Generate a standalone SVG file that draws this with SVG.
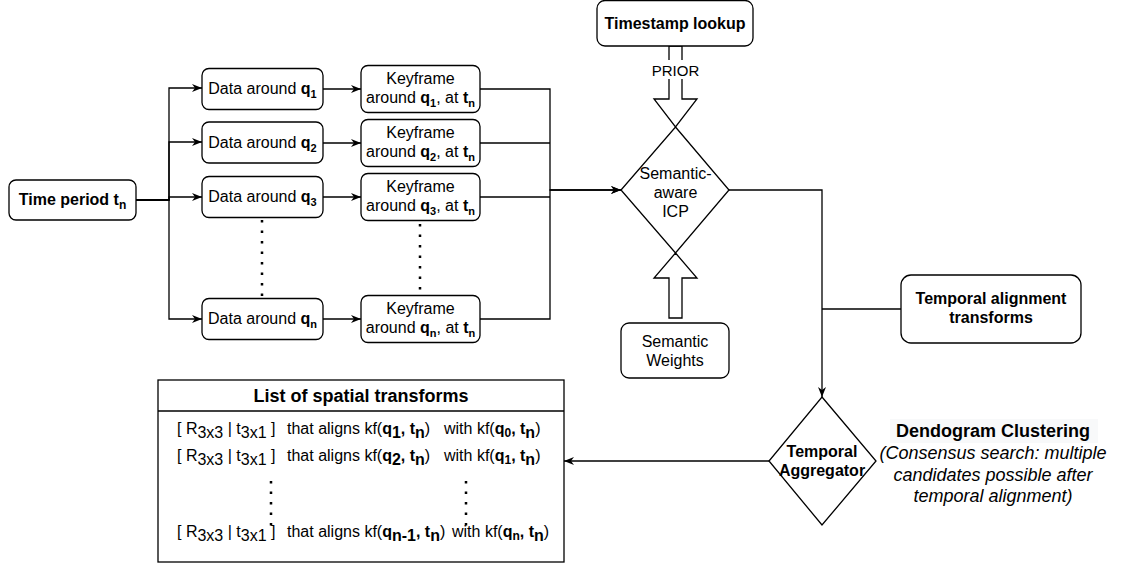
<svg xmlns="http://www.w3.org/2000/svg" width="1122" height="565" viewBox="0 0 1122 565">
<defs>
<marker id="arr" viewBox="0 0 10 8" refX="10" refY="4" markerWidth="10" markerHeight="8" markerUnits="userSpaceOnUse" orient="auto">
<path d="M0,0 L10,4 L0,8 L3,4 Z" fill="#000"/>
</marker>
<style>
.box{fill:#fff;stroke:#000;stroke-width:1.3}
.t{font-family:"Liberation Sans",Arial,sans-serif;font-size:16px;fill:#000}
.b{font-weight:bold}
.s{font-size:11px}
.s12{font-size:12px}
.f15{font-size:15px}
.f18{font-size:18px}
.it{font-style:italic}
.e{fill:none;stroke:#000;stroke-width:1.3}
.ea{fill:none;stroke:#000;stroke-width:1.3;marker-end:url(#arr)}
.dot{fill:none;stroke:#000;stroke-width:2.5;stroke-dasharray:2.5 8}
</style>
</defs>
<rect width="1122" height="565" fill="#fff"/>

<g id="connectors">
<path class="ea" d="M136,200 H169 V88 H202"/>
<path class="ea" d="M136,200 H169 V142 H202"/>
<path class="ea" d="M136,200 H169 V197 H202"/>
<path class="ea" d="M136,200 H169 V319 H202"/>
<path class="ea" d="M323,89 H361"/>
<path class="ea" d="M323,143 H361"/>
<path class="ea" d="M323,197 H361"/>
<path class="ea" d="M323,319 H361"/>
<path class="ea" d="M480,89 H550 V190 H621"/>
<path class="e" d="M480,143 H550"/>
<path class="e" d="M480,197 H550"/>
<path class="ea" d="M480,319 H550 V190 H621"/>
<path class="ea" d="M729,190 H822 V397"/>
<path class="e" d="M901,309 H822"/>
<path class="ea" d="M769,461 H564"/>
<path class="dot" d="M262,220 V298"/>
<path class="dot" d="M420,224 V295"/>
<polygon points="669,46 682,46 682,99 697,99 675.5,127 654,99 669,99" fill="#fff" stroke="#000" stroke-width="1.3"/>
<rect x="649" y="60" width="53" height="19" fill="#fff"/>
<text class="t f15" x="675.5" y="75.5" text-anchor="middle">PRIOR</text>
<polygon points="675.5,253 697,278 682,278 682,318 669,318 669,278 654,278" fill="#fff" stroke="#000" stroke-width="1.3"/>
</g>

<g id="time-period">
<rect class="box" x="9" y="180" width="127" height="40" rx="7"/>
<text class="t b" x="72.5" y="205" text-anchor="middle">Time period t<tspan class="s12" dy="4">n</tspan></text>
</g>

<g id="data-q1">
<rect class="box" x="202" y="68.5" width="121" height="41" rx="7"/>
<text class="t" x="262.5" y="94" text-anchor="middle">Data around <tspan class="b">q</tspan><tspan class="b s" dy="4">1</tspan></text>
</g>
<g id="data-q2">
<rect class="box" x="202" y="122" width="121" height="41" rx="7"/>
<text class="t" x="262.5" y="148" text-anchor="middle">Data around <tspan class="b">q</tspan><tspan class="b s" dy="4">2</tspan></text>
</g>
<g id="data-q3">
<rect class="box" x="202" y="176.5" width="121" height="41" rx="7"/>
<text class="t" x="262.5" y="202" text-anchor="middle">Data around <tspan class="b">q</tspan><tspan class="b s" dy="4">3</tspan></text>
</g>
<g id="data-qn">
<rect class="box" x="202" y="298.5" width="121" height="41" rx="7"/>
<text class="t" x="262.5" y="324" text-anchor="middle">Data around <tspan class="b">q</tspan><tspan class="b s" dy="4">n</tspan></text>
</g>

<g id="kf-q1">
<rect class="box" x="361" y="65.5" width="119" height="47" rx="7"/>
<text class="t" x="420.5" y="83.5" text-anchor="middle">Keyframe</text>
<text class="t" x="420.5" y="102.5" text-anchor="middle">around <tspan class="b">q</tspan><tspan class="b s" dy="4">1</tspan><tspan dy="-4">, at </tspan><tspan class="b">t</tspan><tspan class="b s" dy="4">n</tspan></text>
</g>
<g id="kf-q2">
<rect class="box" x="361" y="119.5" width="119" height="47" rx="7"/>
<text class="t" x="420.5" y="137.5" text-anchor="middle">Keyframe</text>
<text class="t" x="420.5" y="156.5" text-anchor="middle">around <tspan class="b">q</tspan><tspan class="b s" dy="4">2</tspan><tspan dy="-4">, at </tspan><tspan class="b">t</tspan><tspan class="b s" dy="4">n</tspan></text>
</g>
<g id="kf-q3">
<rect class="box" x="361" y="173.5" width="119" height="47" rx="7"/>
<text class="t" x="420.5" y="191.5" text-anchor="middle">Keyframe</text>
<text class="t" x="420.5" y="210.5" text-anchor="middle">around <tspan class="b">q</tspan><tspan class="b s" dy="4">3</tspan><tspan dy="-4">, at </tspan><tspan class="b">t</tspan><tspan class="b s" dy="4">n</tspan></text>
</g>
<g id="kf-qn">
<rect class="box" x="361" y="295.5" width="119" height="47" rx="7"/>
<text class="t" x="420.5" y="313.5" text-anchor="middle">Keyframe</text>
<text class="t" x="420.5" y="332.5" text-anchor="middle">around <tspan class="b">q</tspan><tspan class="b s" dy="4">n</tspan><tspan dy="-4">, at </tspan><tspan class="b">t</tspan><tspan class="b s" dy="4">n</tspan></text>
</g>

<g id="timestamp-lookup">
<rect class="box" x="597" y="0.5" width="156" height="45.5" rx="8"/>
<text class="t b" x="675" y="29" text-anchor="middle">Timestamp lookup</text>
</g>

<g id="icp">
<polygon class="box" points="675.5,127 729,190 675.5,253 621,190"/>
<text class="t" x="675.5" y="179" text-anchor="middle">Semantic-</text>
<text class="t" x="675.5" y="198" text-anchor="middle">aware</text>
<text class="t" x="675.5" y="217" text-anchor="middle">ICP</text>
</g>

<g id="semantic-weights">
<rect class="box" x="621" y="323" width="108" height="55" rx="8"/>
<text class="t" x="675" y="347" text-anchor="middle">Semantic</text>
<text class="t" x="675" y="366" text-anchor="middle">Weights</text>
</g>

<g id="temporal-alignment">
<rect class="box" x="901" y="275" width="180" height="68" rx="10"/>
<text class="t b" x="991" y="304" text-anchor="middle">Temporal alignment</text>
<text class="t b" x="991" y="323" text-anchor="middle">transforms</text>
</g>

<g id="temporal-aggregator">
<polygon class="box" points="822,397 876,461 822,525 769,461"/>
<text class="t b" x="822" y="457" text-anchor="middle">Temporal</text>
<text class="t b" x="822" y="476" text-anchor="middle">Aggregator</text>
</g>

<g id="dendogram-label">
<rect x="890" y="419" width="208" height="24" fill="#f8f9fa"/>
<text class="t b f18" x="993" y="437" text-anchor="middle">Dendogram Clustering</text>
<text class="t f18 it" x="993" y="459" text-anchor="middle">(Consensus search: multiple</text>
<text class="t f18 it" x="993" y="480.5" text-anchor="middle">candidates possible after</text>
<text class="t f18 it" x="993" y="502" text-anchor="middle">temporal alignment)</text>
</g>

<g id="spatial-transforms-list">
<rect class="box" x="158" y="380" width="406" height="182"/>
<line x1="158" y1="411" x2="564" y2="411" stroke="#000" stroke-width="1.3"/>
<text class="t b f18" x="361" y="401.5" text-anchor="middle">List of spatial transforms</text>
<path class="dot" d="M271,481 V528"/>
<path class="dot" d="M466,481 V528"/>

<text class="t" x="177" y="434">[ R<tspan dy="4">3x3</tspan><tspan dy="-4"> | t</tspan><tspan dy="4">3x1</tspan><tspan dy="-4"> ]</tspan></text>
<text class="t" x="287" y="434">that aligns kf(<tspan class="b">q</tspan><tspan class="b" dy="4">1</tspan><tspan class="b" dy="-4">, t</tspan><tspan class="b" dy="4">n</tspan><tspan dy="-4">)</tspan></text>
<text class="t" x="444" y="434">with kf(<tspan class="b">q</tspan><tspan class="b s12" dy="3">0</tspan><tspan class="b" dy="-3">, t</tspan><tspan class="b" dy="4">n</tspan><tspan dy="-4">)</tspan></text>

<text class="t" x="177" y="461">[ R<tspan dy="4">3x3</tspan><tspan dy="-4"> | t</tspan><tspan dy="4">3x1</tspan><tspan dy="-4"> ]</tspan></text>
<text class="t" x="287" y="461">that aligns kf(<tspan class="b">q</tspan><tspan class="b" dy="4">2</tspan><tspan class="b" dy="-4">, t</tspan><tspan class="b" dy="4">n</tspan><tspan dy="-4">)</tspan></text>
<text class="t" x="444" y="461">with kf(<tspan class="b">q</tspan><tspan class="b s12" dy="3">1</tspan><tspan class="b" dy="-3">, t</tspan><tspan class="b" dy="4">n</tspan><tspan dy="-4">)</tspan></text>

<text class="t" x="177" y="537">[ R<tspan dy="4">3x3</tspan><tspan dy="-4"> | t</tspan><tspan dy="4">3x1</tspan><tspan dy="-4"> ]</tspan></text>
<text class="t" x="287" y="537">that aligns kf(<tspan class="b">q</tspan><tspan class="b" dy="4">n-1</tspan><tspan class="b" dy="-4">, t</tspan><tspan class="b" dy="4">n</tspan><tspan dy="-4">)</tspan></text>
<text class="t" x="452" y="537">with kf(<tspan class="b">q</tspan><tspan class="b s12" dy="3">n</tspan><tspan class="b" dy="-3">, t</tspan><tspan class="b" dy="4">n</tspan><tspan dy="-4">)</tspan></text>
</g>
</svg>
